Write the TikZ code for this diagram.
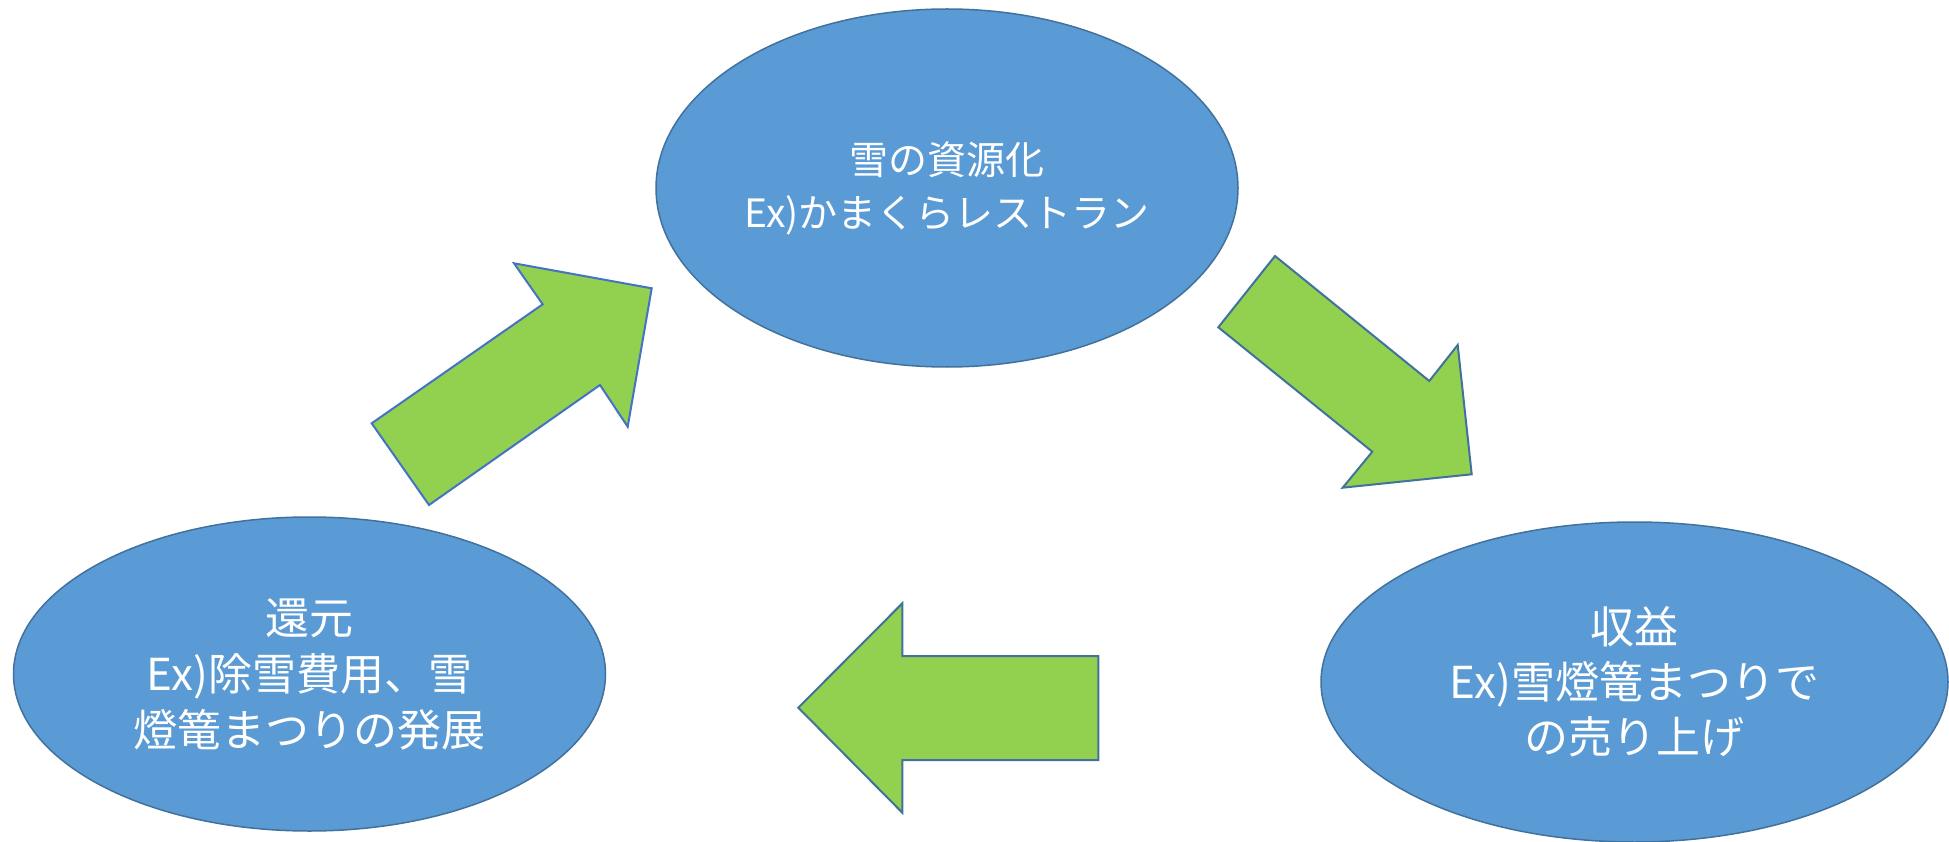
\documentclass[tikz,border=0pt]{standalone}
\usepackage{fontspec}
\setmainfont{Noto Sans CJK JP}
\usetikzlibrary{shapes.geometric}
\definecolor{ellfill}{HTML}{5B9BD5}
\definecolor{elldraw}{HTML}{41719C}
\definecolor{arrfill}{HTML}{92D050}
\definecolor{arrdraw}{HTML}{41719C}
\definecolor{arrdrawb}{HTML}{4472C4}
\begin{document}
\begin{tikzpicture}[x=1pt,y=-1pt,
  blob/.style={ellipse, fill=ellfill, draw=elldraw, line width=1.5pt, inner sep=0pt, text=white, align=center},
  bigarrow/.style={fill=arrfill, draw=arrdraw, line width=2pt, line join=miter}]
\useasboundingbox (0,0) rectangle (1949,842);

% ellipses
\node[blob, minimum width=582pt, minimum height=358pt, font=\fontsize{39pt}{53pt}\selectfont] (top) at (947,188)
  {雪の資源化\\Ex)かまくらレストラン};
\node[blob, minimum width=592pt, minimum height=314pt, font=\fontsize{44pt}{56pt}\selectfont] (left) at (309.5,674)
  {還元\\Ex)除雪費用、雪\\燈篭まつりの発展};
\node[blob, minimum width=627pt, minimum height=320pt, font=\fontsize{44pt}{55pt}\selectfont] (right) at (1634.5,682)
  {収益\\Ex)雪燈篭まつりで\\の売り上げ};

% up-right arrow
\draw[bigarrow, draw=arrdrawb] (371.7,423.3) -- (542.7,304.3) -- (514,263.3) -- (651.7,288.3)
  -- (627.7,426.7) -- (600,385) -- (429,505) -- cycle;
% down-right arrow
\draw[bigarrow] (1275,256) -- (1429.3,381) -- (1457.7,345) -- (1471.7,474.3)
  -- (1342.7,487.7) -- (1372.3,451.7) -- (1218.3,327.3) -- cycle;
% left arrow
\draw[bigarrow] (798.3,707.7) -- (902.3,603.3) -- (902.3,656) -- (1098.3,656)
  -- (1098.3,760) -- (902.3,760) -- (902.3,812.7) -- cycle;
\end{tikzpicture}
\end{document}
